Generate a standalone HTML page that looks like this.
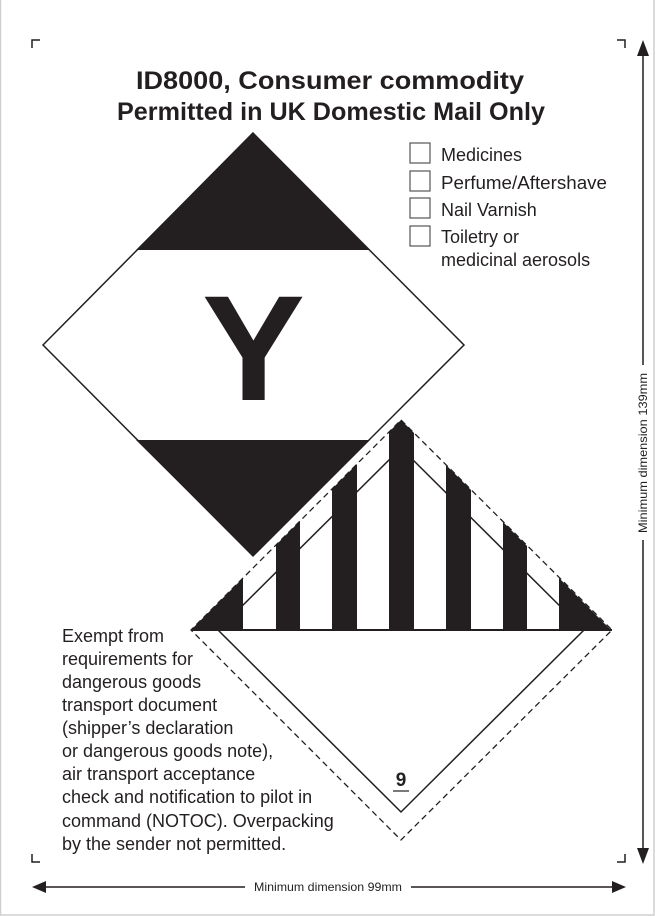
<!DOCTYPE html>
<html><head><style>
body{margin:0;background:#fff}
svg{display:block}
text{font-family:"Liberation Sans",Arial,sans-serif;fill:#231f20}
</style></head><body>
<svg width="655" height="916" viewBox="0 0 655 916" xmlns="http://www.w3.org/2000/svg">
<rect x="0.5" y="-2" width="653.5" height="917" fill="none" stroke="#cfcfcf" stroke-width="1.5"/>
<g stroke="#231f20" stroke-width="1.5" fill="none">
<path d="M32 48V40H40"/><path d="M617 40H625V48"/>
<path d="M32 854V862H40"/><path d="M617 862H625V854"/>
<line x1="643" y1="52" x2="643" y2="365"/><line x1="643" y1="540" x2="643" y2="852"/>
<line x1="45" y1="887" x2="245" y2="887"/><line x1="411" y1="887" x2="615" y2="887"/>
</g>
<g fill="#231f20">
<path d="M643 40L637 56H649Z"/><path d="M643 864L637 848H649Z"/>
<path d="M32 887L46 881V893Z"/><path d="M626 887L612 881V893Z"/>
</g>
<text x="328" y="891" font-size="12" text-anchor="middle" textLength="148" lengthAdjust="spacingAndGlyphs">Minimum dimension 99mm</text>
<text x="0" y="0" font-size="12" text-anchor="middle" textLength="160" lengthAdjust="spacingAndGlyphs" transform="translate(647,453) rotate(-90)">Minimum dimension 139mm</text>
<text x="330" y="89" font-size="25" font-weight="bold" text-anchor="middle" textLength="388" lengthAdjust="spacingAndGlyphs">ID8000, Consumer commodity</text>
<text x="331" y="120" font-size="25" font-weight="bold" text-anchor="middle" textLength="428" lengthAdjust="spacingAndGlyphs">Permitted in UK Domestic Mail Only</text>
<!-- Y diamond -->
<path d="M253 133L464 345L253 556L43 345Z" fill="#fff" stroke="#231f20" stroke-width="1.5"/>
<path d="M253 133L370 250H136Z" fill="#231f20"/>
<path d="M136 440H370L253 556Z" fill="#231f20"/>
<text x="202" y="400" font-size="150" font-weight="bold" textLength="103" lengthAdjust="spacingAndGlyphs">Y</text>
<!-- class 9 -->
<path d="M401 420L611 630L401 840L191 630Z" fill="#fff"/>
<path d="M401 448L584 630L401 812L218 630Z" fill="none" stroke="#231f20" stroke-width="1.5"/>
<clipPath id="c"><path d="M401 420L610 629H192Z"/></clipPath>
<g clip-path="url(#c)" fill="#231f20">
<rect x="190" y="400" width="53" height="231"/>
<rect x="276" y="400" width="24" height="231"/>
<rect x="332" y="400" width="25" height="231"/>
<rect x="389" y="400" width="25" height="231"/>
<rect x="446" y="400" width="25" height="231"/>
<rect x="503" y="400" width="24" height="231"/>
<rect x="559" y="400" width="54" height="231"/>
</g>
<path d="M401 420L612 630L401 840L191 630Z" fill="none" stroke="#231f20" stroke-width="1.3" stroke-dasharray="6 4"/>
<rect x="191" y="629" width="421" height="2" fill="#231f20"/>
<text x="401" y="786" font-size="19" font-weight="bold" text-anchor="middle">9</text>
<line x1="393" y1="791" x2="409" y2="791" stroke="#231f20" stroke-width="1.2"/>
<!-- checkboxes -->
<g fill="none" stroke="#555" stroke-width="1.2">
<rect x="410" y="143" width="20" height="20"/><rect x="410" y="171" width="20" height="20"/>
<rect x="410" y="198" width="20" height="20"/><rect x="410" y="226" width="20" height="20"/>
</g>
<g font-size="18">
<text x="441" y="161">Medicines</text>
<text x="441" y="189" textLength="166" lengthAdjust="spacingAndGlyphs">Perfume/Aftershave</text>
<text x="441" y="216">Nail Varnish</text>
<text x="441" y="243">Toiletry or</text>
<text x="441" y="266">medicinal aerosols</text>
</g>
<g font-size="18">
<text x="62" y="642">Exempt from</text>
<text x="62" y="665">requirements for</text>
<text x="62" y="688">dangerous goods</text>
<text x="62" y="711">transport document</text>
<text x="62" y="734">(shipper’s declaration</text>
<text x="62" y="757">or dangerous goods note),</text>
<text x="62" y="780">air transport acceptance</text>
<text x="62" y="803">check and notification to pilot in</text>
<text x="62" y="827">command (NOTOC). Overpacking</text>
<text x="62" y="850">by the sender not permitted.</text>
</g>
</svg>
</body></html>
